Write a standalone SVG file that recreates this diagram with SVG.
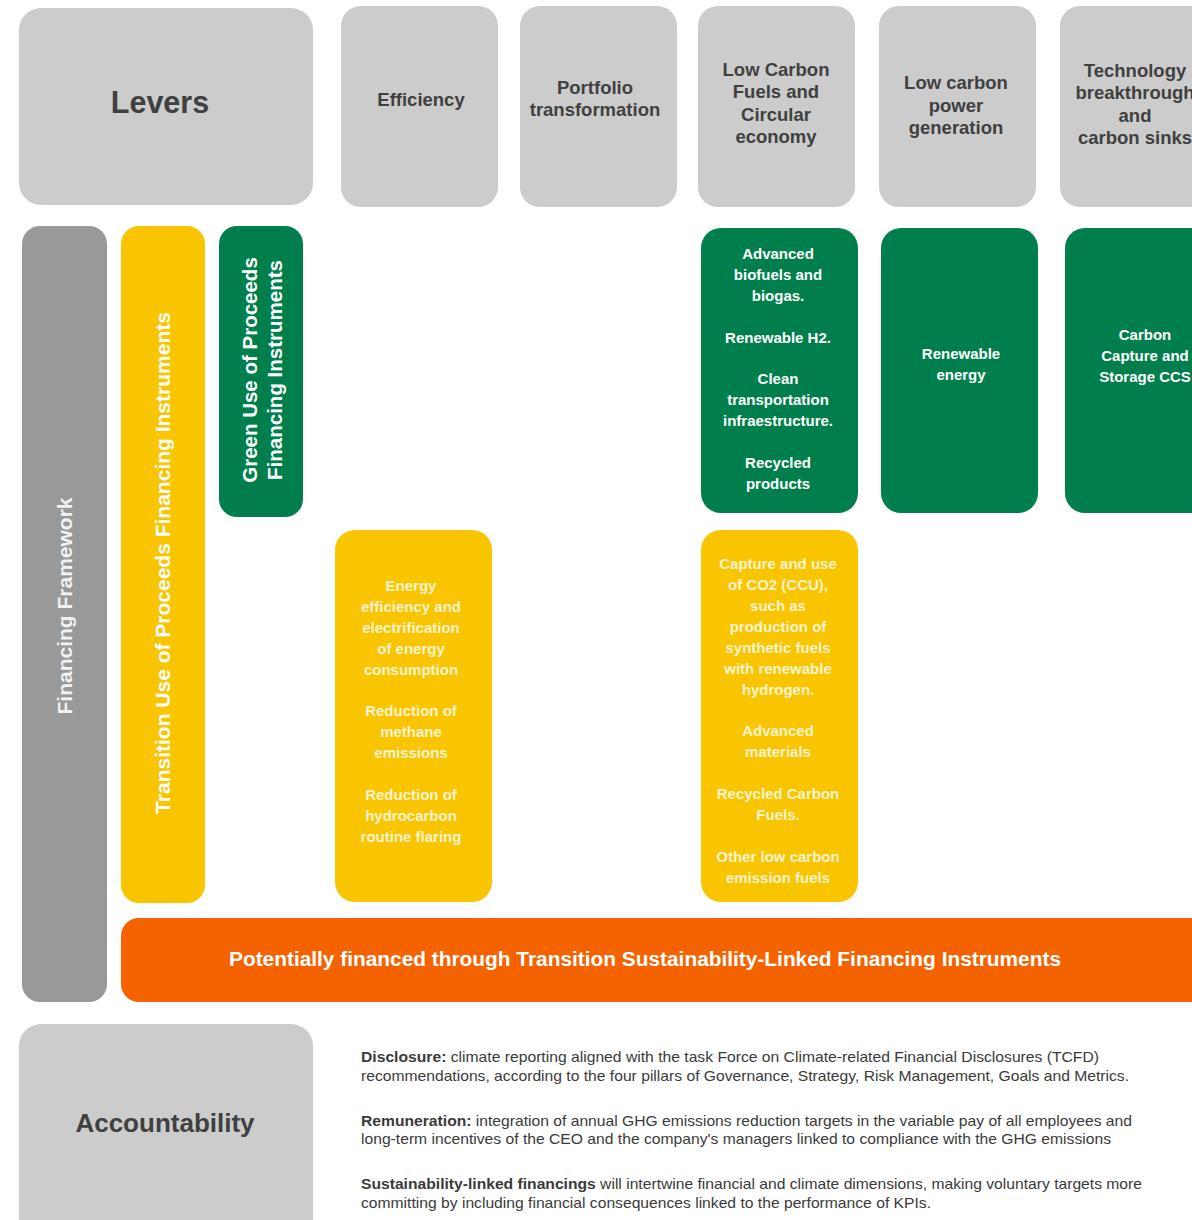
<svg xmlns="http://www.w3.org/2000/svg" width="1192" height="1220" viewBox="0 0 1192 1220">
<style>
.hdr{fill:#cccccc}
.grn{fill:#007f4d}
.yel{fill:#f8c500}
.t{font-family:"Liberation Sans",Arial,sans-serif;font-weight:bold}
.h{fill:#404040;font-size:18.5px;text-anchor:middle}
.w{fill:#ffffff;font-size:15px;text-anchor:middle}
.wy{fill:#fdf3d0;font-size:15px;text-anchor:middle}
.body{font-family:"Liberation Sans",Arial,sans-serif;font-size:14.5px;fill:#3a3a3a}
.body .b{font-weight:bold}
</style>
<rect width="1192" height="1220" fill="#ffffff"/>
<g id="levers">
<rect class="hdr" x="19" y="8" width="294" height="197" rx="22"/>
<text class="t h" x="160" y="113" style="font-size:30.5px">Levers</text>
</g>
<g id="efficiency">
<rect class="hdr" x="341" y="6" width="157" height="201" rx="20"/>
<text class="t h" x="421" y="106">Efficiency</text>
</g>
<g id="portfolio">
<rect class="hdr" x="520" y="6" width="157" height="201" rx="20"/>
<text class="t h" x="595" y="94">Portfolio</text>
<text class="t h" x="595" y="116">transformation</text>
</g>
<g id="lowcarbonfuels">
<rect class="hdr" x="698" y="6" width="157" height="201" rx="20"/>
<text class="t h" x="776" y="76">Low Carbon</text>
<text class="t h" x="776" y="98">Fuels and</text>
<text class="t h" x="776" y="121">Circular</text>
<text class="t h" x="776" y="143">economy</text>
</g>
<g id="lowcarbonpower">
<rect class="hdr" x="879" y="6" width="157" height="201" rx="20"/>
<text class="t h" x="956" y="89">Low carbon</text>
<text class="t h" x="956" y="112">power</text>
<text class="t h" x="956" y="134">generation</text>
</g>
<g id="technology">
<rect class="hdr" x="1060" y="6" width="157" height="201" rx="20"/>
<text class="t h" x="1135" y="77">Technology</text>
<text class="t h" x="1135" y="99">breakthrough</text>
<text class="t h" x="1135" y="122">and</text>
<text class="t h" x="1135" y="144">carbon sinks</text>
</g>
<g id="financing-framework">
<rect x="22" y="226" width="85" height="776" rx="18" fill="#999999"/>
<text class="t" transform="translate(72,606) rotate(-90)" text-anchor="middle" fill="#f2f2f2" font-size="21">Financing Framework</text>
</g>
<g id="transition-uop">
<rect class="yel" x="121" y="226" width="84" height="677" rx="18"/>
<text class="t" transform="translate(170,563) rotate(-90)" text-anchor="middle" fill="#ffffff" font-size="21">Transition Use of Proceeds Financing Instruments</text>
</g>
<g id="green-uop">
<rect class="grn" x="219" y="226" width="84" height="291" rx="18"/>
<text class="t" transform="translate(257,370) rotate(-90)" text-anchor="middle" fill="#ffffff" font-size="20.5">Green Use of Proceeds</text>
<text class="t" transform="translate(282,370) rotate(-90)" text-anchor="middle" fill="#ffffff" font-size="20.5">Financing Instruments</text>
</g>
<g id="green-lcf">
<rect class="grn" x="701" y="228" width="157" height="285" rx="20"/>
<text class="t w" x="778" y="259">Advanced</text>
<text class="t w" x="778" y="280">biofuels and</text>
<text class="t w" x="778" y="301">biogas.</text>
<text class="t w" x="778" y="343">Renewable H2.</text>
<text class="t w" x="778" y="384">Clean</text>
<text class="t w" x="778" y="405">transportation</text>
<text class="t w" x="778" y="426">infraestructure.</text>
<text class="t w" x="778" y="468">Recycled</text>
<text class="t w" x="778" y="489">products</text>
</g>
<g id="green-power">
<rect class="grn" x="881" y="228" width="157" height="285" rx="20"/>
<text class="t w" x="961" y="359">Renewable</text>
<text class="t w" x="961" y="380">energy</text>
</g>
<g id="green-tech">
<rect class="grn" x="1065" y="228" width="157" height="285" rx="20"/>
<text class="t w" x="1145" y="340">Carbon</text>
<text class="t w" x="1145" y="361">Capture and</text>
<text class="t w" x="1145" y="382">Storage CCS</text>
</g>
<g id="yellow-eff">
<rect class="yel" x="335" y="530" width="157" height="372" rx="20"/>
<text class="t wy" x="411" y="591">Energy</text>
<text class="t wy" x="411" y="612">efficiency and</text>
<text class="t wy" x="411" y="633">electrification</text>
<text class="t wy" x="411" y="654">of energy</text>
<text class="t wy" x="411" y="675">consumption</text>
<text class="t wy" x="411" y="716">Reduction of</text>
<text class="t wy" x="411" y="737">methane</text>
<text class="t wy" x="411" y="758">emissions</text>
<text class="t wy" x="411" y="800">Reduction of</text>
<text class="t wy" x="411" y="821">hydrocarbon</text>
<text class="t wy" x="411" y="842">routine flaring</text>
</g>
<g id="yellow-lcf">
<rect class="yel" x="701" y="530" width="157" height="372" rx="20"/>
<text class="t wy" x="778" y="569">Capture and use</text>
<text class="t wy" x="778" y="590">of CO2 (CCU),</text>
<text class="t wy" x="778" y="611">such as</text>
<text class="t wy" x="778" y="632">production of</text>
<text class="t wy" x="778" y="653">synthetic fuels</text>
<text class="t wy" x="778" y="674">with renewable</text>
<text class="t wy" x="778" y="695">hydrogen.</text>
<text class="t wy" x="778" y="736">Advanced</text>
<text class="t wy" x="778" y="757">materials</text>
<text class="t wy" x="778" y="799">Recycled Carbon</text>
<text class="t wy" x="778" y="820">Fuels.</text>
<text class="t wy" x="778" y="862">Other low carbon</text>
<text class="t wy" x="778" y="883">emission fuels</text>
</g>
<g id="sustainability-linked">
<rect x="121" y="918" width="1110" height="84" rx="18" fill="#f56300"/>
<text class="t" x="229" y="966" fill="#ffffff" font-size="20" textLength="832" lengthAdjust="spacingAndGlyphs">Potentially financed through Transition Sustainability-Linked Financing Instruments</text>
</g>
<g id="accountability">
<rect class="hdr" x="19" y="1024" width="294" height="220" rx="22"/>
<text class="t h" x="165" y="1132" style="font-size:26px">Accountability</text>
</g>
<g id="accountability-text">
<text class="body" x="361" y="1062" textLength="738" lengthAdjust="spacingAndGlyphs"><tspan class="b">Disclosure:</tspan> climate reporting aligned with the task Force on Climate-related Financial Disclosures (TCFD)</text>
<text class="body" x="361" y="1081" textLength="768" lengthAdjust="spacingAndGlyphs">recommendations, according to the four pillars of Governance, Strategy, Risk Management, Goals and Metrics.</text>
<text class="body" x="361" y="1126" textLength="771" lengthAdjust="spacingAndGlyphs"><tspan class="b">Remuneration:</tspan> integration of annual GHG emissions reduction targets in the variable pay of all employees and</text>
<text class="body" x="361" y="1144" textLength="750" lengthAdjust="spacingAndGlyphs">long-term incentives of the CEO and the company's managers linked to compliance with the GHG emissions</text>
<text class="body" x="361" y="1189" textLength="781" lengthAdjust="spacingAndGlyphs"><tspan class="b">Sustainability-linked financings</tspan> will intertwine financial and climate dimensions, making voluntary targets more</text>
<text class="body" x="361" y="1208" textLength="570" lengthAdjust="spacingAndGlyphs">committing by including financial consequences linked to the performance of KPIs.</text>
</g>
</svg>
